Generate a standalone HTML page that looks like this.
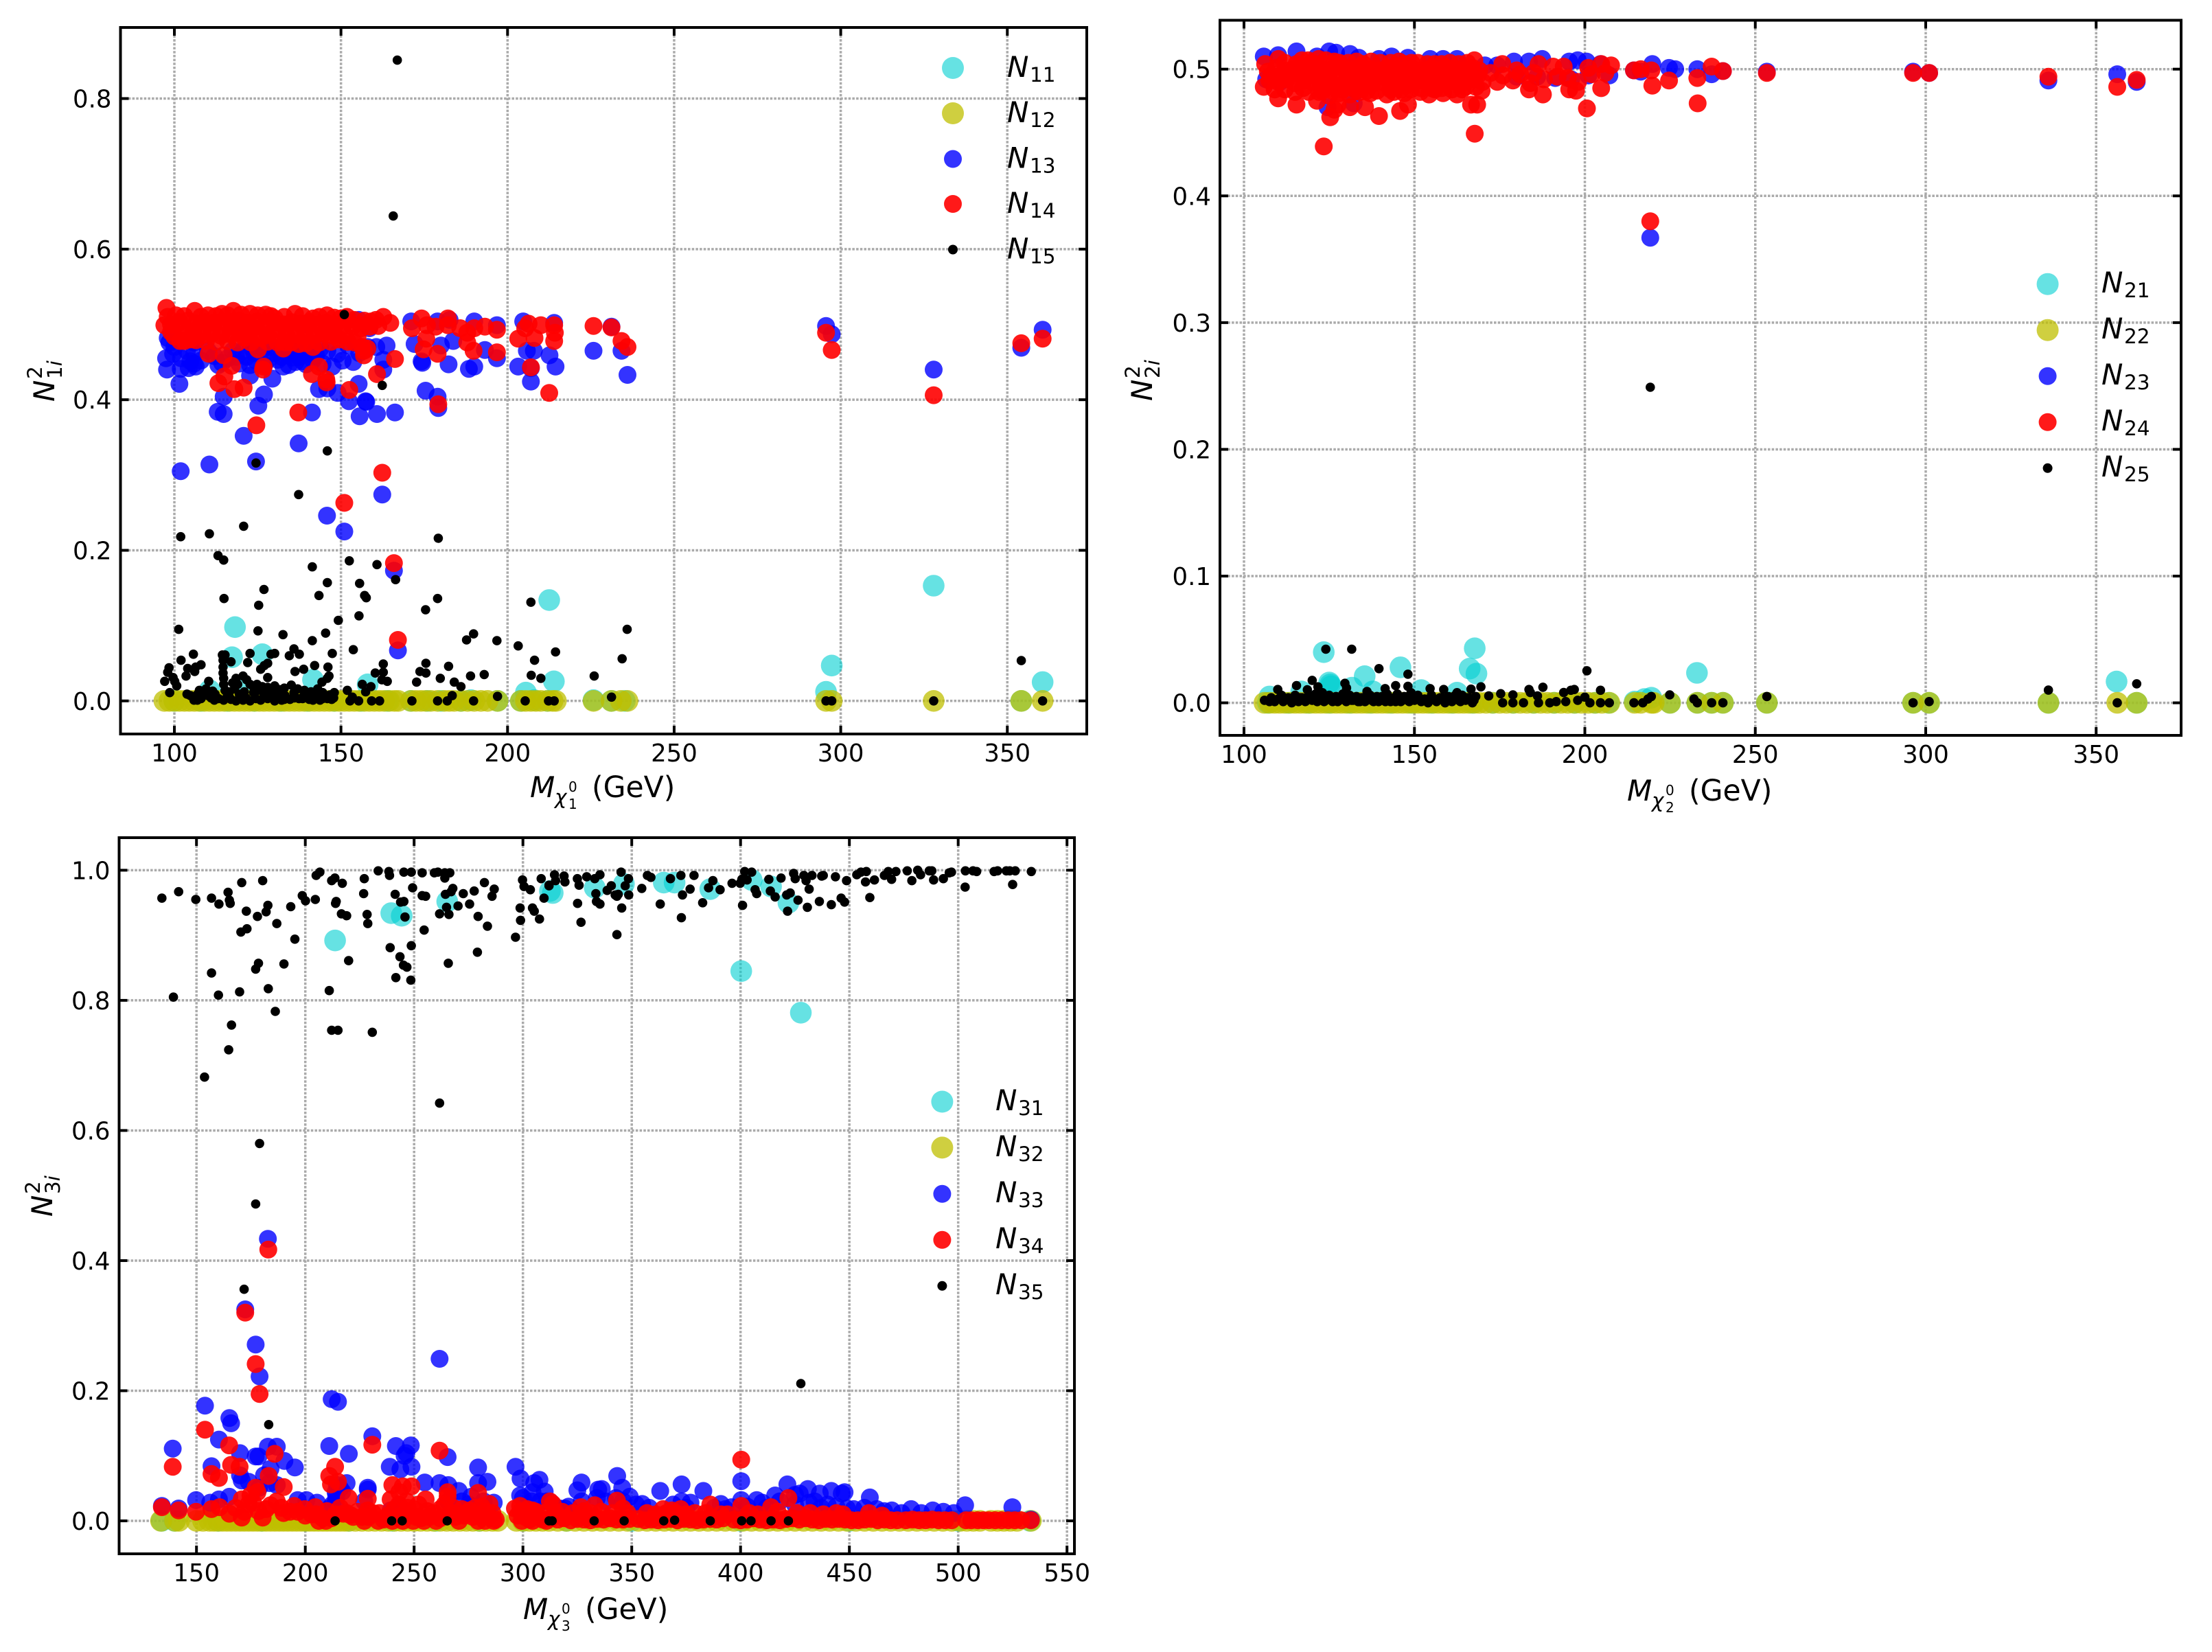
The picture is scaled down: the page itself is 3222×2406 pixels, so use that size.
<!DOCTYPE html>
<html lang="en">
<head>
<meta charset="utf-8">
<title>Neutralino mixing components versus mass</title>
<style>
html,body{margin:0;padding:0;background:#fff;}
svg{display:block;font-family:"DejaVu Sans","Liberation Sans",sans-serif;fill:#000;}
.tick-label{font-size:35.5px;}
.it{font-style:italic;}
</style>
</head>
<body>
<svg id="chart" xmlns="http://www.w3.org/2000/svg" width="3222" height="2406" viewBox="0 0 3222 2406">
<rect x="0" y="0" width="3222" height="2406" fill="#fff"/>
<g id="panel1"></g>
<g id="panel2"></g>
<g id="panel3"></g>

<!-- axis titles -->
<g transform="translate(772,1161)">
<text class="it" font-size="42">M</text><text class="it" x="36" y="10" font-size="29.5">χ</text><text x="56" y="-8" font-size="20">0</text><text x="56" y="17" font-size="20">1</text><text x="90" font-size="42.5">(GeV)</text>
</g>
<g transform="translate(2370,1166)">
<text class="it" font-size="42">M</text><text class="it" x="36" y="10" font-size="29.5">χ</text><text x="56" y="-8" font-size="20">0</text><text x="56" y="17" font-size="20">2</text><text x="90" font-size="42.5">(GeV)</text>
</g>
<g transform="translate(762,2358)">
<text class="it" font-size="42">M</text><text class="it" x="36" y="10" font-size="29.5">χ</text><text x="56" y="-8" font-size="20">0</text><text x="56" y="17" font-size="20">3</text><text x="90" font-size="42.5">(GeV)</text>
</g>
<g transform="translate(79,585) rotate(-90)">
<text class="it" font-size="42">N</text><text x="33" y="-18" font-size="29.5">2</text><text x="33" y="11" font-size="29.5">1<tspan class="it">i</tspan></text>
</g>
<g transform="translate(1678,584) rotate(-90)">
<text class="it" font-size="42">N</text><text x="33" y="-18" font-size="29.5">2</text><text x="33" y="11" font-size="29.5">2<tspan class="it">i</tspan></text>
</g>
<g transform="translate(76,1772) rotate(-90)">
<text class="it" font-size="42">N</text><text x="33" y="-18" font-size="29.5">2</text><text x="33" y="11" font-size="29.5">3<tspan class="it">i</tspan></text>
</g>

<!-- legends -->
<g>
<g><circle cx="1388" cy="99" r="16" fill="#00ced1" fill-opacity=".6"/><text class="it" x="1467" y="112" font-size="42">N</text><text x="1500" y="119" font-size="29.5">11</text></g>
<g><circle cx="1388" cy="165" r="16" fill="#bfbf00" fill-opacity=".75"/><text class="it" x="1467" y="178" font-size="42">N</text><text x="1500" y="185" font-size="29.5">12</text></g>
<g><circle cx="1388" cy="231.5" r="13" fill="#0000ff" fill-opacity=".8"/><text class="it" x="1467" y="244.5" font-size="42">N</text><text x="1500" y="251.5" font-size="29.5">13</text></g>
<g><circle cx="1388" cy="297" r="13" fill="#ff0000" fill-opacity=".9"/><text class="it" x="1467" y="310" font-size="42">N</text><text x="1500" y="317" font-size="29.5">14</text></g>
<g><circle cx="1388" cy="363.5" r="7" fill="#000"/><text class="it" x="1467" y="376.5" font-size="42">N</text><text x="1500" y="383.5" font-size="29.5">15</text></g>
</g>
<g>
<g><circle cx="2982.6" cy="413.7" r="16" fill="#00ced1" fill-opacity=".6"/><text class="it" x="3061" y="426" font-size="42">N</text><text x="3094" y="433" font-size="29.5">21</text></g>
<g><circle cx="2982.6" cy="480.7" r="16" fill="#bfbf00" fill-opacity=".75"/><text class="it" x="3061" y="493" font-size="42">N</text><text x="3094" y="500" font-size="29.5">22</text></g>
<g><circle cx="2982.6" cy="547.7" r="13" fill="#0000ff" fill-opacity=".8"/><text class="it" x="3061" y="560" font-size="42">N</text><text x="3094" y="567" font-size="29.5">23</text></g>
<g><circle cx="2982.6" cy="614.8" r="13" fill="#ff0000" fill-opacity=".9"/><text class="it" x="3061" y="627" font-size="42">N</text><text x="3094" y="634" font-size="29.5">24</text></g>
<g><circle cx="2982.6" cy="681.8" r="7" fill="#000"/><text class="it" x="3061" y="694" font-size="42">N</text><text x="3094" y="701" font-size="29.5">25</text></g>
</g>
<g>
<g><circle cx="1372.4" cy="1604.5" r="16" fill="#00ced1" fill-opacity=".6"/><text class="it" x="1450" y="1617" font-size="42">N</text><text x="1483" y="1624" font-size="29.5">31</text></g>
<g><circle cx="1372.4" cy="1671.4" r="16" fill="#bfbf00" fill-opacity=".75"/><text class="it" x="1450" y="1684" font-size="42">N</text><text x="1483" y="1691" font-size="29.5">32</text></g>
<g><circle cx="1372.4" cy="1738.8" r="13" fill="#0000ff" fill-opacity=".8"/><text class="it" x="1450" y="1751" font-size="42">N</text><text x="1483" y="1758" font-size="29.5">33</text></g>
<g><circle cx="1372.4" cy="1805.8" r="13" fill="#ff0000" fill-opacity=".9"/><text class="it" x="1450" y="1818" font-size="42">N</text><text x="1483" y="1825" font-size="29.5">34</text></g>
<g><circle cx="1372.4" cy="1872.8" r="7" fill="#000"/><text class="it" x="1450" y="1885" font-size="42">N</text><text x="1483" y="1892" font-size="29.5">35</text></g>
</g>
</svg>
<script>
// ---------- tick labels ----------
const p1XTicks = [100,150,200,250,300,350];
const p1YTicks = ['0.0','0.2','0.4','0.6','0.8'];
const p2XTicks = [100,150,200,250,300,350];
const p2YTicks = ['0.0','0.1','0.2','0.3','0.4','0.5'];
const p3XTicks = [150,200,250,300,350,400,450,500,550];
const p3YTicks = ['0.0','0.2','0.4','0.6','0.8','1.0'];

// ---------- panel 1 : [mass, N^2] ----------
const p1N11 = [[118.2,.098],[212.5,.134],[117.3,.058],[126.4,.062],[141.6,.028],[158,.022],[213.9,.026],[205.5,.011],[110.6,.014],[120,.018],[327.9,.153],[297.3,.047],[295.6,.012],[360.6,.025],[354.2,0],[225.8,.001],[231.2,0],[235.2,0],[208,.001],[189,.001],[197,0],[171,0],[176,0],[100,0],[108,0],[116,0],[124,0],[132,0],[140,0],[148,0],[156,0],[164,0],[180,0],[186,0],[204,0],[212,0]];
const p1N12 = [[97,0],[98.5,0],[100,0],[101.5,0],[103,0],[104.5,0],[106,0],[107.5,0],[109,0],[110.5,0],[112,0],[113.5,0],[115,0],[116.5,0],[118,0],[119.5,0],[121,0],[122.5,0],[124,0],[125.5,0],[127,0],[128.5,0],[130,0],[131.5,0],[133,0],[134.5,0],[136,0],[137.5,0],[139,0],[140.5,0],[142,0],[143.5,0],[145,0],[146.5,0],[148,0],[149.5,0],[151,0],[152.5,0],[154,0],[155.5,0],[157,0],[158.5,0],[160,0],[161.5,0],[163,0],[164.5,0],[166,0],[167.2,0],[171,0],[172.5,0],[174,0],[175.5,0],[177,0],[179,0],[181,0],[182.5,0],[184,0],[186,0],[188,0],[190,0],[192,0],[194,0],[197,0],[204,0],[205.5,0],[207,0],[208.5,0],[210,0],[212,0],[213.5,0],[214.5,0],[225.8,0],[231.2,0],[234,0],[236,0],[295.6,0],[297.3,0],[327.9,0],[354.2,0],[360.6,0]];
const p1N13 = [[171.1,.504],[179,.504],[182.6,.506],[190,.504],[196.8,.499],[204.7,.504],[214,.502],[231.2,.497],[155.3,.506],[158.5,.495],[172.1,.474],[180,.472],[183.7,.478],[193.2,.466],[196.8,.455],[207.9,.465],[205.8,.465],[212.6,.459],[225.8,.465],[234.2,.465],[174.2,.451],[174.4,.449],[182.3,.447],[188.4,.441],[190,.444],[203.2,.444],[207,.424],[214.4,.444],[236,.433],[207,.442],[175.4,.412],[179,.404],[179.2,.389],[166.2,.383],[160.8,.381],[155.6,.378],[157.4,.398],[157.6,.397],[152.4,.398],[155.3,.421],[149,.409],[145.9,.415],[143.4,.414],[141.3,.383],[126.9,.407],[125.2,.392],[114.8,.404],[114.8,.381],[113,.384],[120.8,.352],[137.3,.342],[124.5,.318],[110.5,.314],[101.9,.305],[145.8,.246],[151,.225],[162.4,.274],[165.9,.173],[167.1,.067],[101.5,.421],[97.8,.440],[101.9,.441],[106.4,.444],[97.5,.455],[98,.482],[105.9,.448],[122.7,.432],[129.4,.428],[132.7,.444],[136.4,.450],[138.5,.451],[147.4,.444],[153.7,.450],[162.7,.440],[162.7,.453],[163.7,.472],[160.6,.470],[152.2,.472],[145.9,.465],[141.6,.453],[120.6,.465],[122.7,.446],[118.5,.457],[131.1,.453],[134.3,.446],[137.5,.457],[114.3,.449],[113.2,.446],[103.8,.465],[99.6,.461],[105.9,.476],[110.1,.465],[126.9,.468],[117.5,.465],[121.7,.457],[134.3,.461],[140.6,.461],[143.8,.468],[98.5,.476],[104.8,.451],[104.3,.442],[132.2,.457],[124,.462],[128.5,.455],[120,.500],[140,.500],[295.6,.498],[297.3,.487],[327.9,.440],[354.2,.469],[360.6,.493],
[108,.452],[112,.458],[116,.455],[119.5,.448],[124.5,.452],[127,.446],[130,.462],[135.5,.456],[139.5,.447],[142.5,.459],[144.5,.448],[149,.461],[150.5,.452],[155.5,.462],[158,.470],[102,.455],[100,.470],[106,.462],[123,.470],[129,.470],[135,.470],[139,.470]];
const p1N14 = [[97.6,.522],[97,.499],[106.1,.518],[110.1,.512],[114.3,.514],[117.7,.518],[122.7,.514],[127.4,.513],[130.1,.508],[136.2,.514],[141.6,.508],[145.8,.512],[151.8,.510],[159,.504],[162.7,.510],[164.8,.502],
[99,.500],[101.5,.503],[104,.505],[106.6,.501],[109.2,.503],[111.8,.502],[114.4,.504],[117,.503],[119.6,.505],[122.2,.502],[124.8,.504],[127.4,.501],[130,.503],[132.6,.500],[135.2,.503],[137.8,.501],[140.4,.503],[143,.500],[145.6,.502],[148.2,.500],[150.8,.499],[153.4,.497],[156,.495],[158.6,.497],[161.2,.498],
[100,.484],[102.8,.487],[105.6,.489],[108.4,.486],[111.2,.488],[114,.485],[116.8,.487],[119.6,.489],[122.4,.487],[125.2,.489],[128,.486],[130.8,.488],[133.6,.485],[136.4,.487],[139.2,.484],[142,.486],[144.8,.488],[147.6,.485],[151,.487],[155,.484],[99,.490],[103,.494],[107,.494],[111,.495],[115,.494],[119,.495],[123,.494],[127,.495],[131,.494],[135,.495],[139,.494],[143,.493],[147,.494],
[98,.510],[100.5,.512],[103,.511],[108,.510],[112.5,.511],[116,.512],[120,.513],[125,.512],[129,.511],[133,.510],[138.5,.511],[143.5,.510],[148,.509],[150,.508],[154,.506],[157,.505],[160.5,.506],[103,.478],[106.5,.479],[109.5,.478],[112.5,.477],[116,.478],[119,.476],[123,.476],[128,.477],[131,.476],[135,.476],[139.5,.475],[143.5,.476],[147,.477],[152,.477],[154,.476],
[101.7,.478],[104.8,.480],[121.1,.482],[125.9,.482],[133.2,.476],[137.4,.474],[141.6,.470],[149.5,.480],[156.4,.470],[156.9,.459],[156.9,.465],[157.9,.468],[110.3,.461],[114.8,.459],[125.1,.467],[132.7,.468],[166.2,.454],[160.8,.434],[141.3,.434],[143.4,.444],[145.7,.423],[145.6,.427],[126.6,.440],[126.8,.444],[117.2,.445],[115,.431],[113.2,.422],[118,.414],[120.8,.416],[152.5,.413],[137.2,.383],[124.6,.366],[162.4,.303],[151,.263],[165.9,.183],[167.1,.081],
[171.3,.495],[174.2,.508],[175.8,.499],[178.4,.497],[182.1,.508],[182.1,.499],[185.8,.495],[187.9,.489],[190,.495],[193.2,.497],[196.8,.493],[196.8,.463],[189.8,.465],[175.6,.481],[174.8,.467],[179,.461],[187.9,.476],[203.2,.481],[205.3,.495],[206.3,.501],[208.1,.482],[210,.499],[214,.499],[214.2,.489],[214,.478],[207,.443],[212.5,.409],[225.8,.498],[231.2,.496],[234.2,.478],[236,.470],[179.2,.394],[295.6,.489],[297.3,.466],[327.9,.406],[354.2,.475],[360.6,.481]];
const p1N15 = [[166.9,.851],[165.7,.644],[151,.513],[162.4,.419],[145.9,.332],[124.5,.316],[137.3,.274],[101.9,.218],[110.5,.222],[120.8,.232],[179.2,.216],[113.1,.193],[114.8,.187],[141.4,.178],[152.5,.186],[160.8,.181],[166.4,.161],[145.9,.157],[155.6,.156],[126.9,.148],[157.1,.140],[157.6,.137],[143.4,.140],[114.9,.136],[179,.136],[207,.131],[125.3,.127],[175.4,.121],[155.4,.113],[149.2,.107],[101.3,.095],[235.9,.095],[125.1,.093],[132.6,.088],[145.4,.090],[189.8,.089],[187.7,.081],[196.8,.080],[141.4,.080],[203.2,.073],[135.9,.069],[153.7,.068],[214.4,.065],[114.4,.061],[115.2,.061],[105.7,.062],[122.7,.063],[130.1,.063],[129,.062],[134.5,.060],[137.5,.062],[147.4,.063],[102,.054],[117,.052],[122,.051],[208.1,.054],[234.4,.056],[108,.048],[106.4,.045],[104,.043],[128,.050],[127,.047],[125.9,.042],[162.7,.049],[175.5,.050],[182.3,.046],[142.1,.047],[98.4,.044],[98,.038],[114.6,.054],[114.6,.045],[114.6,.037],[114.8,.030],[114.8,.022],[115.2,.014],[146.1,.045],[136.2,.039],[138.8,.042],[160.3,.037],[162.7,.038],[103.5,.033],[106.1,.039],[173.7,.039],[175.5,.037],[188.9,.033],[193,.035],[207.1,.034],[226,.033],[210,.030],[97.1,.026],[99.6,.031],[100.1,.026],[100.7,.020],[110.3,.026],[128,.031],[120.6,.033],[118.5,.030],[121.7,.028],[117.5,.024],[122.7,.022],[118,.016],[146.4,.033],[145.9,.030],[144.3,.025],[162.3,.028],[163.9,.026],[172.7,.025],[179.8,.030],[184,.025],[186,.019],[156.4,.022],[159,.019],[157.4,.012],[135.1,.021],[130.1,.020],[128,.018],[124.8,.022],[123.8,.018],[126.4,.019],[151.9,.014],[148,.011],[98.6,.011],[103.8,.009],[144.5,.011],[153.4,.005],[152.7,0],[155.3,0],[159.2,0],[161.6,0],[171.3,0],[179,0],[181.9,0],[183.4,.007],[189.8,0],[197,.006],[205.3,0],[212.3,0],[214,0],[231.2,.005],[105.9,.001],[109,.011],[112.2,.009],[114.8,.001],[118.5,0],[122.7,0],[125.9,.001],[130.1,0],[133.2,.007],[135.9,.011],[138.5,.003],[141.6,.001],[145.9,.003],[104.8,.007],[106.9,.001],[110.1,.007],[115.9,.007],[120.6,.001],[123.8,.011],[128,.003],[132.2,.001],[137.4,.003],[143.7,.001],[108,.003],[112,.001],[117,.002],[126.9,.006],[129.5,.008],[134.7,.002],[139.9,.005],[147.2,.002],[354.2,.0535],[295.6,0],[297.3,0],[327.9,0],[360.6,0],
[107,.009],[111,.004],[113.3,.003],[116.5,.005],[119.5,.009],[121.5,.004],[124.5,.003],[127,.009],[129,.012],[131,.005],[133,.002],[136,.004],[139,.009],[140.5,.002],[142.5,.006],[144.5,.003],[146.7,.008],[147.8,.004],[121,.012],[125,.014],[116.5,.012],[119,.022],[131.5,.015],[133,.017],[137,.016],[139,.014],[141,.012],[143,.016],[107.5,.014],[109.5,.016],[111.5,.013]];

// ---------- panel 2 : [mass, N^2] ----------
const p2N21 = [[123.4,.040],[167.7,.043],[166.2,.027],[168.2,.023],[135.4,.021],[145.9,.028],[125,.016],[125.3,.0145],[125.5,.013],[131.7,.012],[137.8,.009],[152,.01],[162.5,.008],[107.5,.005],[116.8,.009],[232.9,.0236],[356,.0168],[219.5,.004],[217.5,.003],[214.6,.001],[225,0],[233,0],[237.2,0],[240.5,0],[253.4,0],[296.3,0],[301,0],[336,0],[361.9,0],[107,0],[113,0],[119,0],[125,0],[131,0],[137,0],[143,0],[149,0],[155,0],[161,0],[167,0],[173,0],[179,0],[185,0],[191,0],[197,0],[203,0],[207,0]];
const p2N22 = [[106,0],[107.5,0],[109,0],[110.5,0],[112,0],[113.5,0],[115,0],[116.5,0],[118,0],[119.5,0],[121,0],[122.5,0],[124,0],[125.5,0],[127,0],[128.5,0],[130,0],[131.5,0],[133,0],[134.5,0],[136,0],[137.5,0],[139,0],[140.5,0],[142,0],[143.5,0],[145,0],[146.5,0],[148,0],[149.5,0],[151,0],[152.5,0],[154,0],[155.5,0],[157,0],[158.5,0],[160,0],[161.5,0],[163,0],[164.5,0],[166,0],[167.5,0],[169,0],[171,0],[173,0],[175,0],[177,0],[179,0],[181,0],[183,0],[185,0],[187,0],[189,0],[191,0],[193,0],[195,0],[197,0],[199,0],[201,0],[203,0],[205,0],[207.2,0],[214.6,0],[216.4,0],[219.5,0],[220.2,0],[225,0],[233,0],[237.2,0],[240.5,0],[253.4,0],[296.3,0],[301,0],[336,0],[356.2,0],[361.9,0]];
const p2N23 = [[105.8,.510],[110,.511],[115.4,.514],[121.4,.510],[125,.514],[127,.513],[131.1,.512],[133.7,.509],[139.6,.508],[143.3,.510],[148.1,.509],[154.6,.508],[158.4,.508],[162.5,.508],[170.7,.503],[174.3,.503],[179.2,.506],[183.6,.506],[187.5,.508],[195.4,.506],[197.9,.507],[200.5,.506],[204.6,.504],[191.3,.493],[207.2,.495],[201,.495],[214.4,.499],[219.8,.504],[224.7,.501],[106.5,.492],[110.6,.490],[124.5,.470],[132.2,.473],[219.2,.367],[233,.500],[237.2,.496],[240.5,.4985],[253.4,.498],[296.3,.498],[301,.497],[336,.491],[356.2,.496],[361.9,.490],[226.5,.500],[216.4,.498],[180,.494],[186,.494],[196,.492]];
const p2N24 = [[123.4,.439],[167.7,.449],[200.6,.469],[219.2,.380],[139.6,.463],[125.3,.462],[131.1,.470],[135.5,.470],[145.8,.467],[148.1,.472],[166.6,.472],[168.4,.472],[110,.477],[115.4,.472],[105.8,.486],[121.4,.475],[204.8,.485],[187.7,.480],[183.6,.484],[219.8,.487],[195.4,.484],[197.4,.483],[174.3,.490],[178.9,.491],[169.7,.483],[162.5,.480],[158.4,.481],[154.3,.480],[151.7,.482],[141.9,.480],[117.3,.485],[126.5,.468],[127.5,.472],
[106.2,.504],[110.1,.508],[115.4,.504],[118.8,.507],[121.9,.508],[126.5,.506],[130.6,.505],[137.3,.506],[145.5,.506],[149.1,.505],[153.8,.504],[160.4,.505],[167.6,.507],[172.3,.497],[175.8,.504],[180,.499],[186.4,.504],[190.7,.502],[193.8,.502],[201,.501],[204.8,.504],[207.7,.503],[214.4,.499],[216.4,.500],[219.5,.499],[224.7,.491],[233.1,.473],[233,.493],[237.2,.502],[240.5,.4985],[253.4,.497],[296.3,.497],[301,.497],[336,.494],[356.2,.486],[361.9,.4915],
[107,.498],[109.5,.501],[112,.499],[114.5,.500],[117,.502],[119.5,.500],[122,.501],[124.5,.499],[127,.502],[129.5,.500],[132,.499],[134.5,.501],[137,.500],[139.5,.499],[142,.501],[144.5,.500],[147,.499],[149.5,.500],[152,.499],[154.5,.500],[157,.499],[159.5,.501],[162,.500],[164.5,.499],[167,.501],[169,.499],[107.5,.491],[110,.490],[112.5,.492],[115,.489],[117.5,.491],[120,.490],[122.5,.488],[125,.491],[127.5,.487],[130,.489],[132.5,.486],[135,.490],[137.5,.488],[140,.490],[142.5,.491],[145,.489],[147.5,.487],[150,.490],[152.5,.491],[155,.489],[157.5,.491],[160,.490],[162.5,.491],[165,.490],[167.5,.492],[170,.490],
[122,.482],[125,.479],[128,.481],[131,.480],[134,.482],[137,.481],[144,.482],[147,.481],[156,.484],[164,.484],[184,.489],[176,.495],[181,.496],[185,.497],[195,.493],[198,.490],[202,.496],[206,.497],[188,.492],[192,.494],
[108,.495],[111,.495],[113.5,.495],[116,.496],[118.5,.496],[121,.495],[123.5,.494],[126,.495],[128.5,.494],[131,.494],[133.5,.495],[136,.494],[138.5,.494],[141,.495],[143.5,.494],[146,.494],[148.5,.495],[151,.494],[153.5,.494],[156,.495],[158.5,.495],[161,.495],[163.5,.494],[166,.495],[168.5,.495],[109,.484],[112,.484],[115,.482],[119,.482],[123,.483],[126,.483],[129,.484],[133,.483],[136,.483],[139,.483],[143,.484],[146,.484],[149,.484],[152,.485],[155,.485],[158,.485],[161,.484],[165,.486],[168,.486],[112,.505],[117,.507],[120,.505],[124,.507],[128,.505],[133,.506],[135,.504],[140,.505],[143,.505],[147,.504],[151,.505],[156,.504],[158,.504],[163,.504],[165.5,.505]];
const p2N25 = [[124,.0423],[131.6,.0423],[139.6,.027],[148.1,.0226],[200.6,.0253],[219.2,.249],[120,.0177],[115.4,.0136],[187.7,.0123],[169.5,.0126],[129.6,.0154],[144.5,.0136],[148.1,.013],[204.6,.0099],[183.6,.0105],[154.6,.0112],[158.6,.0105],[166.6,.0108],[162.5,.008],[109.9,.0105],[121.7,.0126],[118.6,.0103],[130.1,.0117],[136.1,.009],[141.4,.0112],[171.8,.0054],[175.3,.0072],[178.9,.0063],[184,.0081],[186.1,.0054],[193.8,.0081],[195.9,.0099],[196.9,.0105],[200,.0045],[219.5,.005],[224.9,.0063],[175.9,0],[178.9,0],[182,0],[186.4,0],[189.7,0],[191.6,.001],[194.4,.001],[197.9,.002],[201.5,0],[204.6,0],[207.2,0],[214.4,0],[217,0],[218.5,.003],[106,.002],[108,.004],[109,.001],[111,.006],[112,.002],[113,.004],[114,0],[115,.006],[116,.001],[117,.004],[118,.001],[119,.006],[120,.002],[121,.007],[122,.003],[123,.008],[124,.002],[125,.006],[126,.001],[127,.005],[128,.002],[129,.007],[130,.001],[131,.006],[132,.002],[133,.005],[134,.001],[135,.004],[136,.002],[137,.006],[138,.001],[139,.005],[140,.002],[142,.007],[143,.001],[144,.004],[145,.007],[146,.001],[147,.005],[148,.002],[149,.008],[151,.006],[153,.003],[154,0],[155,.006],[156,.002],[158,.004],[159,0],[160,.005],[161,.001],[162,.006],[163,.002],[164,.006],[165,.002],[166,.004],[167,0],[168,.005],[233,0],[237.2,0],[240.5,0],[232,.003],[253.4,.005],[296.3,0],[301,.001],[336,.010],[356.2,0],[361.9,.015],
[107.5,.001],[110,.003],[111.5,.001],[113.5,.002],[115.5,.003],[116.5,.004],[118.5,.004],[120.5,.005],[121.5,.001],[122.5,.005],[123.5,.001],[124.5,.005],[125.5,.003],[126.5,.004],[127.5,.001],[128.5,.005],[129.5,.003],[130.5,.004],[131.5,.002],[132.5,.004],[133.5,.001],[134.5,.004],[135.5,.001],[136.5,.004],[137.5,.002],[138.5,.004],[139.5,.001],[140.5,.005],[141.5,.001],[142.5,.004],[143.5,.002],[144.5,.001],[145.5,.004],[146.5,.002],[147.5,.004],[148.5,.001],[150,.002],[152,.001],[154.5,.003],[156.5,.001],[157.5,.004],[160.5,.002],[163.5,.001],[165.5,.004],[167.5,.002]];

// ---------- panel 3 : [mass, N^2] ----------
const p3N31 = [[213.7,.892],[239.5,.934],[244.3,.930],[265.2,.952],[312.4,.968],[313.7,.965],[333,.973],[346.4,.979],[364.7,.981],[369.7,.981],[386.1,.971],[400.3,.845],[427.7,.781],[405.1,.985],[414,.975],[422,.950],[134,0],[140,0],[160,0],[180,0],[200,0],[220,0],[240,0],[260,0],[280,0],[300,0],[320,0],[350,0],[400,0],[450,0],[500,0],[533,0]];
const p3N32 = [[133.7,0],[140.2,0],[142,0],[150,0],[153,0],[156,0],[158,0],[160,0],[162,0],[164,0],[166,0],[168,0],[170,0],[172,0],[174,0],[176,0],[178,0],[180,0],[182,0],[184,0],[186,0],[188,0],[190,0],[192,0],[194,0],[196,0],[198,0],[200,0],[202,0],[204,0],[206,0],[208,0],[210,0],[212,0],[214,0],[216,0],[218,0],[220,0],[223,0],[226,0],[229,0],[232,0],[235,0],[238,0],[241,0],[244,0],[247,0],[250,0],[253,0],[256,0],[259,0],[262,0],[265,0],[268,0],[271,0],[274,0],[277,0],[280,0],[283,0],[286,0],[288.5,0],[297,0],[300,0],[303,0],[306,0],[309,0],[312,0],[316,0],[320,0],[324,0],[328,0],[332,0],[336,0],[340,0],[344,0],[348,0],[353,0],[357,0],[361,0],[365,0],[369,0],[373,0],[377,0],[381,0],[385,0],[389,0],[393,0],[397,0],[401,0],[405,0],[409,0],[413,0],[417,0],[421,0],[425,0],[429,0],[433,0],[437,0],[441,0],[445,0],[449,0],[453,0],[457,0],[461,0],[465,0],[469,0],[473,0],[477,0],[481,0],[485,0],[489,0],[493,0],[497,0],[501,0],[504,0],[507,0],[510,0],[515,0],[518,0],[521,0],[524,0],[527,0],[533.4,0]];
const p3N33 = [[182.8,.4335],[177.2,.271],[179,.222],[261.7,.249],[172.4,.325],[153.9,.177],[165.1,.158],[165.9,.150],[139.1,.111],[160.3,.125],[170,.104],[177.2,.099],[178.5,.099],[182.8,.114],[186.9,.114],[190.4,.092],[195.2,.082],[156.9,.084],[170.8,.062],[178.8,.051],[183.6,.058],[186.9,.055],[149.8,.032],[134.1,.023],[141.8,.019],[156.3,.028],[160.3,.033],[165.1,.037],[196.5,.032],[200.5,.032],[205.4,.028],[212.1,.187],[215,.183],[211,.115],[220,.103],[230.8,.130],[241.6,.115],[248.5,.116],[246.4,.104],[245.6,.100],[238.8,.083],[243.7,.079],[248.8,.083],[265.4,.098],[254.9,.059],[261.7,.058],[265.7,.055],[270.5,.046],[279.4,.082],[283.7,.060],[279.4,.058],[286.6,.028],[219,.058],[214.2,.037],[213.9,.044],[228.7,.051],[228.7,.048],[296.6,.083],[298.9,.065],[307.6,.063],[305.2,.058],[304.4,.044],[298.7,.039],[276.2,.037],[265.7,.030],[239.2,.016],[243.2,.023],[227.1,.030],[211,.019],[326.9,.059],[325,.047],[334.6,.048],[336.2,.049],[343.3,.069],[345.6,.051],[342.7,.035],[349.1,.037],[354.8,.026],[363.1,.046],[372.9,.056],[372.9,.030],[377,.028],[382.9,.046],[390.9,.026],[395.8,.021],[400.3,.061],[400.3,.032],[407.4,.032],[415.9,.039],[421.5,.056],[427.2,.042],[430.9,.049],[431.5,.028],[436.4,.042],[441.7,.046],[446.5,.042],[447.8,.044],[448.9,.019],[459.4,.036],[456.9,.020],[462.6,.018],[469.5,.016],[478.4,.018],[488.3,.016],[493.2,.014],[503.2,.024],[524.9,.021],[533.4,.002],[317,.019],[319.3,.019],[313,.028],[310,.045],[365,.01],[437,.02],[425,.025],[412,.02],
[214,.03],[217,.045],[212.5,.025],[214.5,.055],[216,.05],[272,.03],[275,.025],[282,.03],[300,.035],[304,.03],[308,.03],[311,.03],[321,.022],[327,.03],[334,.035],[338,.03],[346,.03],[352,.025],[358,.02],[369,.025],[375,.02],[388,.02],[393,.018],[403,.022],[410,.028],[418,.03],[425,.04],[434,.03],[440,.025],[444,.022],[452,.018],[466,.015],[474,.012],[483,.012],[498,.012],[170,.07],[174,.06],[181,.07],[184,.08]];
const p3N34 = [[183,.417],[172.4,.320],[177.2,.241],[179,.195],[153.9,.140],[165,.116],[139.1,.083],[165.9,.086],[169.8,.083],[156.9,.072],[160.3,.066],[183.2,.069],[185.9,.103],[190.1,.052],[213.7,.083],[211,.069],[211.8,.056],[215,.060],[230.8,.117],[261.7,.108],[240,.055],[244.8,.053],[248.8,.053],[239.2,.033],[243.2,.044],[246.4,.030],[255.3,.033],[265.4,.044],[265.4,.037],[279.4,.043],[284.6,.026],[219.9,.035],[228.7,.034],[177.2,.051],[178,.044],[174.8,.039],[170.8,.033],[174,.026],[170.8,.005],[186.9,.030],[182,.018],[180.4,.005],[194.9,.023],[196.5,.014],[199.7,.018],[204.6,.021],[134.1,.021],[141.8,.016],[149.8,.014],[156.9,.018],[160.6,.021],[165.1,.011],
[206.2,0],[209.4,0],[217.4,.011],[220.7,.009],[227.1,0],[228.7,.016],[233.5,0],[240,0],[244.8,0],[249.6,0],[254.5,0],[260.1,0],[265.7,.009],[270.6,0],[275.4,.016],[279.4,0],[282.6,0],[286.6,0],[296.3,.019],[298.7,.023],[299.5,0],[304.4,.016],[304.4,0],[310.8,0],[312.4,.030],[190,.012],[200,.008],[203,.01],[208,.004],[212,.004],[214,.01],[219,.012],[222,.006],[226,.006],[229,.006],[236,.002],[238,.008],[242,.006],[246,.008],[251,.006],[253,.004],[257,.006],[262,.004],[267,.012],[269,.006],[273,.008],[277,.006],[281,.008],[284,.006],[287.5,.002],[297.5,.008],[301,.006],[303,.002],[307,.006],[309,.002],[313,.004],
[400.3,.094],[422,.035],[386.1,.025],[400.3,.023],[414,.021],[343.2,.031],[345.9,.019],[333,.024],[326.6,.021],[313.7,.026],[364.4,.018],[372.5,.018],[368.4,.016],
[316,.002],[319,.004],[322,.001],[325,.003],[328,.002],[331,.001],[334,.003],[337,.002],[340,.004],[343,.002],[346,.002],[349,.003],[353,.003],[356,.001],[359,.002],[362,.001],[365,.002],[368,.003],[371,.001],[374,.003],[377,.002],[380,.001],[383,.002],[386,.003],[389,.002],[392,.004],[397,.002],[400,.001],[403,.002],[406,.004],[409,.002],[412,.001],[415,.002],[418,.001],[421,.003],[424,.004],[427,.002],[430,.004],[433,.002],[436,.001],[439,.003],[442,.002],[445,.003],[448,.002],[451,.001],[454,.001],[457,.002],[460,.003],[463,.001],[466,.002],[469,.001],[472,.001],[476,.001],[479,.002],[482,.001],[485,.001],[488,.002],[491,.001],[494,.001],[497,.001],[503.6,.001],[506,.001],[509,.001],[511.5,.001],[514,.001],[517,.001],[520,.001],[523,.001],[526,.001],[529,.001],[533.4,.001],
[168,.02],[172,.014],[176,.028],[178.5,.015],[184,.024],[189,.02],[193,.014],[205,.01],[210,.015],[216,.02],[224,.014],[231,.012],[234,.012],[241,.018],[243,.025],[247,.02],[250,.018],[252,.025],[256,.015],[259,.012],[262,.018],[264,.025],[268,.02],[272,.018],[274,.012],[278,.02],[281,.022],[283,.014],[286,.012],[299,.014],[302,.018],[306,.014],[310,.012],[315,.012],[318,.014],[323,.012],[328,.015],[331,.012],[336,.014],[341,.012],[348,.012],[357,.012],[361,.01],[366,.012],[370,.012],[375,.01],[379,.012],[384,.012],[391,.01],[394,.01],[404,.012],[408,.01],[417,.014],[426,.012],[432,.012],[438,.01],[444,.012],[447,.01],[459,.012],[465,.008]];
const p3N35 = [[134.1,.957],[141.8,.967],[149.7,.955],[156.9,.957],[160.3,.948],[164.5,.966],[165.1,.954],[165.5,.949],[170.8,.981],[180.4,.984],[172.9,.937],[178,.929],[182,.936],[182.8,.946],[186.9,.918],[193.3,.944],[198.6,.961],[200.1,.953],[204.6,.955],[195.2,.894],[173.2,.910],[170.4,.905],[177.2,.848],[178.5,.857],[190.2,.856],[156.9,.842],[139.4,.805],[160.1,.808],[169.8,.813],[183,.818],[186.2,.783],[166.1,.762],[164.8,.724],[153.7,.682],[179,.580],[177.2,.487],[211,.815],[212.1,.754],[215,.754],[230.8,.751],[219.9,.861],[261.7,.642],[265.7,.857],[279.1,.874],[296.6,.897],[241.6,.835],[248.5,.831],[243.5,.867],[245.1,.854],[246.7,.851],[239,.881],[248.7,.884],[254.6,.908],[245.8,.928],[243.8,.951],[245.3,.952],[241.3,.963],[249.3,.973],[253.7,.961],[255.3,.960],[205,.992],[206.7,.997],[212.1,.984],[213.6,.988],[217,.980],[214.2,.952],[213.9,.949],[216.6,.933],[219,.930],[227.1,.987],[226.8,.964],[228.4,.932],[228.7,.918],[233.5,.999],[238.4,.998],[238.7,.992],[245.3,.997],[248.7,.997],[253.7,.996],[259.3,.996],[260.9,.997],[264.1,.996],[266.4,.996],[264.1,.988],[264.4,.963],[267.8,.972],[267,.967],[272.6,.964],[277.6,.968],[282.3,.981],[286.8,.971],[285.8,.960],[264.9,.943],[270.2,.945],[275.5,.948],[261.7,.933],[266,.932],[279.4,.929],[283.7,.914],[298.7,.942],[298.9,.923],[307.6,.925],[299.8,.985],[300.5,.975],[303.4,.970],[308.4,.987],[304.4,.942],[305.2,.937],[309.7,.957],[312,.976],
[314.5,.993],[315,.984],[312,.977],[318.9,.991],[319.3,.982],[325,.987],[329.3,.990],[325.8,.977],[333,.987],[335.4,.993],[325.1,.949],[326.7,.920],[333.5,.964],[333.8,.952],[335.4,.948],[338.7,.969],[340.6,.976],[342.4,.962],[343.8,.963],[343.2,.960],[345.1,.997],[348.5,.987],[347,.976],[348.6,.962],[345.4,.942],[343.2,.901],[354.6,.972],[357.2,.992],[358.8,.989],[363.1,.948],[367.8,.987],[372.6,.992],[373.3,.962],[376.8,.971],[372.8,.927],[378.6,.992],[382.6,.950],[385.3,.973],[387.3,.984],[390.6,.970],[396.1,.980],[399.8,.980],[400.9,.946],[401.9,.998],[405.1,.997],[400.6,.986],[403,.985],[406.7,.970],[407.4,.964],[413,.986],[413.7,.968],[415.9,.959],[418.6,.988],[421.2,.962],[422.8,.965],[421.6,.937],[426.4,.954],[424.4,.995],[425.1,.987],[429.1,.992],[430.1,.984],[432.8,.992],[431.5,.971],[430.7,.943],[437.3,.991],[438,.992],[436.2,.952],[441.7,.947],[443.6,.990],[446.2,.957],[447.8,.951],[448.7,.984],[453.4,.993],[455.3,.997],[457.8,.998],[457.4,.982],[461.5,.985],[459.4,.958],[466.1,.992],[467.9,.998],[469.4,.986],[471.4,.998],[476.6,.999],[478.7,.984],[481.4,1.0],[482.7,.993],[486.7,.999],[487.9,.999],[488.7,.985],[493.2,.987],[495.9,.996],[496.9,.997],[503.3,.999],[503.2,.974],[506.8,.999],[508.5,.998],[516.5,.998],[518.1,.999],[522.1,.999],[523.7,.999],[526.2,.999],[525,.978],[533.6,.998],
[183.2,.148],[427.7,.211],[171.9,.356],[213.7,0],[239.7,0],[244.5,0],[265.2,0],[312,0],[313.4,0],[332.7,0],[346.5,0],[364.7,0],[369.7,.001],[386.1,0],[400.5,0],[404.8,0],[414,0],[422,0]];

// ---------- series styling ----------
const seriesStyles = [
  {key:'n1', fill:'#00ced1', opacity:.6, r:15.8},
  {key:'n2', fill:'#bfbf00', opacity:.75, r:15.8},
  {key:'n3', fill:'#0000ff', opacity:.8, r:13},
  {key:'n4', fill:'#ff0000', opacity:.9, r:13},
  {key:'n5', fill:'#000000', opacity:1, r:6.8}
];

const NS = 'http://www.w3.org/2000/svg';

function drawPanel(cfg) {
  const g = document.getElementById(cfg.id);
  const xScale = v => cfg.x0 + (v - cfg.xRef) * cfg.xPerUnit;
  const yScale = v => cfg.y0 - v * cfg.yPerUnit;

  // grid
  cfg.xTicks.forEach(function (t) {
    const px = xScale(t);
    const line = document.createElementNS(NS, 'line');
    
    
    line.setAttribute('x1', px);
    line.setAttribute('x2', px);
    line.setAttribute('y1', cfg.top);
    line.setAttribute('y2', cfg.bottom);
    line.setAttribute('stroke', '#aaaaaa');
    line.setAttribute('stroke-width', '3.5');
    line.setAttribute('stroke-dasharray', '3.5 2.2');
    g.appendChild(line);
  });
  cfg.yTicks.forEach(function (t) {
    const py = yScale(parseFloat(t));
    const line = document.createElementNS(NS, 'line');
    
    
    line.setAttribute('x1', cfg.left);
    line.setAttribute('x2', cfg.right);
    line.setAttribute('y1', py);
    line.setAttribute('y2', py);
    line.setAttribute('stroke', '#aaaaaa');
    line.setAttribute('stroke-width', '3.5');
    line.setAttribute('stroke-dasharray', '3.5 2.2');
    g.appendChild(line);
  });

  // marks
  cfg.series.forEach(function (points, i) {
    const st = seriesStyles[i];
    points.forEach(function (p) {
      const c = document.createElementNS(NS, 'circle');
      
      
      c.setAttribute('cx', xScale(p[0]).toFixed(1));
      c.setAttribute('cy', yScale(p[1]).toFixed(1));
      c.setAttribute('r', st.r);
      c.setAttribute('fill', st.fill);
      c.setAttribute('fill-opacity', st.opacity);
      g.appendChild(c);
    });
  });

  // frame
  const frame = document.createElementNS(NS, 'rect');
  
  
  frame.setAttribute('x', cfg.left);
  frame.setAttribute('y', cfg.top);
  frame.setAttribute('width', cfg.right - cfg.left);
  frame.setAttribute('height', cfg.bottom - cfg.top);
  frame.setAttribute('fill', 'none');
  frame.setAttribute('stroke', '#000');
  frame.setAttribute('stroke-width', '4');
  g.appendChild(frame);

  // ticks + labels
  cfg.xTicks.forEach(function (t) {
    const px = xScale(t);
    [[cfg.bottom, cfg.bottom - 12], [cfg.top, cfg.top + 12]].forEach(function (seg) {
      const tick = document.createElementNS(NS, 'line');
      
      
      tick.setAttribute('x1', px);
      tick.setAttribute('x2', px);
      tick.setAttribute('y1', seg[0]);
      tick.setAttribute('y2', seg[1]);
      tick.setAttribute('stroke', '#000');
      tick.setAttribute('stroke-width', '4');
      g.appendChild(tick);
    });
    const label = document.createElementNS(NS, 'text');
    
    
    label.setAttribute('class', 'tick-label');
    label.setAttribute('x', px);
    label.setAttribute('y', cfg.bottom + 40);
    label.setAttribute('text-anchor', 'middle');
    label.textContent = t;
    g.appendChild(label);
  });
  cfg.yTicks.forEach(function (t) {
    const py = yScale(parseFloat(t));
    [[cfg.left, cfg.left + 12], [cfg.right, cfg.right - 12]].forEach(function (seg) {
      const tick = document.createElementNS(NS, 'line');
      
      
      tick.setAttribute('x1', seg[0]);
      tick.setAttribute('x2', seg[1]);
      tick.setAttribute('y1', py);
      tick.setAttribute('y2', py);
      tick.setAttribute('stroke', '#000');
      tick.setAttribute('stroke-width', '4');
      g.appendChild(tick);
    });
    const label = document.createElementNS(NS, 'text');
    
    
    label.setAttribute('class', 'tick-label');
    label.setAttribute('x', cfg.left - 13);
    label.setAttribute('y', py + 13);
    label.setAttribute('text-anchor', 'end');
    label.textContent = t;
    g.appendChild(label);
  });
}

drawPanel({id:'panel1', name:'panel-1', left:175.5, right:1583, top:40, bottom:1069, xRef:100, x0:254, xPerUnit:4.853, y0:1020.8, yPerUnit:1096.6, xTicks:p1XTicks, yTicks:p1YTicks, series:[p1N11,p1N12,p1N13,p1N14,p1N15]});
drawPanel({id:'panel2', name:'panel-2', left:1777, right:3177, top:29.5, bottom:1071, xRef:100, x0:1812, xPerUnit:4.965, y0:1023.6, yPerUnit:1845.8, xTicks:p2XTicks, yTicks:p2YTicks, series:[p2N21,p2N22,p2N23,p2N24,p2N25]});
drawPanel({id:'panel3', name:'panel-3', left:173.5, right:1565, top:1220, bottom:2263, xRef:150, x0:286.2, xPerUnit:3.17, y0:2215, yPerUnit:947.6, xTicks:p3XTicks, yTicks:p3YTicks, series:[p3N31,p3N32,p3N33,p3N34,p3N35]});
</script>
</body>
</html>
